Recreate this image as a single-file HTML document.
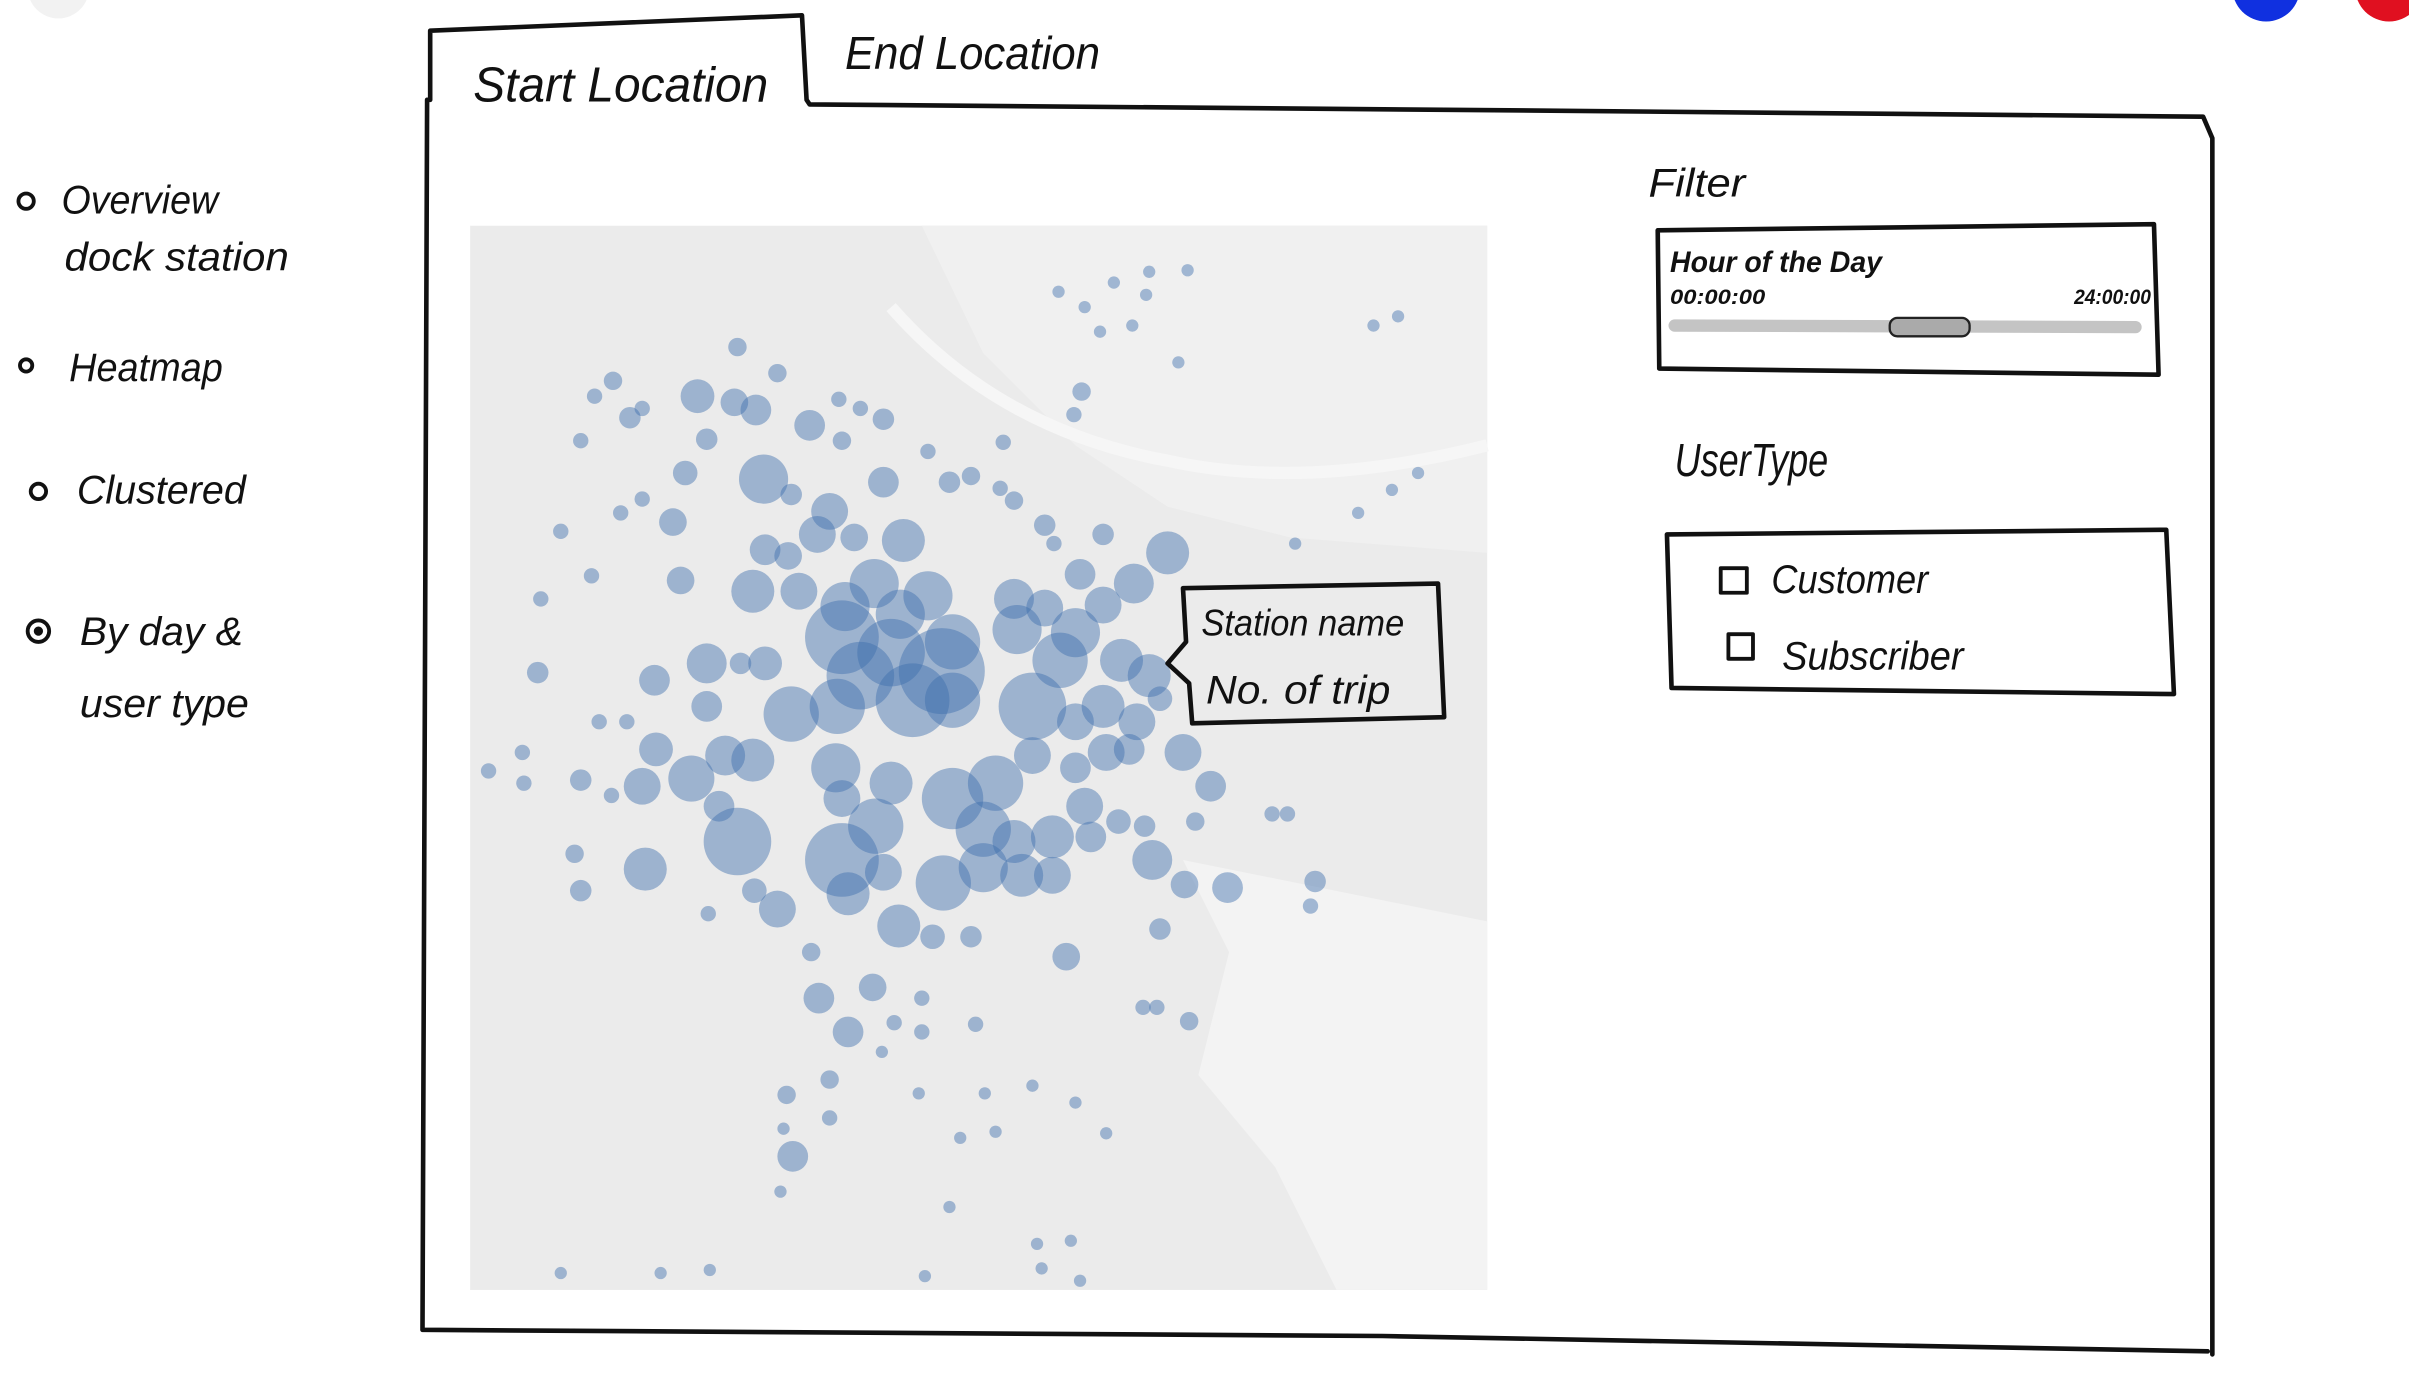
<!DOCTYPE html>
<html><head><meta charset="utf-8"><style>
html,body{margin:0;padding:0;background:#fff;}
svg{display:block}
text{font-family:"Liberation Sans",sans-serif;fill:#111}
</style></head><body>
<svg width="2409" height="1379" viewBox="0 0 1568 898" preserveAspectRatio="none" xmlns="http://www.w3.org/2000/svg">
<rect width="1568" height="898" fill="#fff"/>
<circle cx="38" cy="-8" r="20" fill="#f2f2f2"/>
<circle cx="1475" cy="-8" r="22" fill="#1030e0"/>
<circle cx="1555" cy="-8" r="22" fill="#e01020"/>
<!-- map -->
<rect x="306" y="147" width="662" height="693" fill="#ebebeb"/>
<path d="M600 147 L640 230 L700 290 L760 330 L840 350 L968 360 L968 147 Z" fill="#f0f0f0"/>
<path d="M770 560 L800 620 L780 700 L830 760 L870 840 L968 840 L968 600 Z" fill="#f3f3f3"/>
<path d="M580 200 Q650 280 760 300 Q850 320 968 290" stroke="#f6f6f6" stroke-width="8" fill="none"/>
<g fill="rgba(62,110,172,0.45)">
<circle cx="480" cy="226" r="6"/><circle cx="506" cy="243" r="6"/><circle cx="399" cy="248" r="6"/><circle cx="387" cy="258" r="5"/><circle cx="454" cy="258" r="11"/><circle cx="478" cy="262" r="9"/><circle cx="492" cy="267" r="10"/><circle cx="410" cy="272" r="7"/><circle cx="418" cy="266" r="5"/><circle cx="527" cy="277" r="10"/><circle cx="546" cy="260" r="5"/><circle cx="560" cy="266" r="5"/><circle cx="575" cy="273" r="7"/><circle cx="460" cy="286" r="7"/><circle cx="378" cy="287" r="5"/><circle cx="548" cy="287" r="6"/><circle cx="604" cy="294" r="5"/><circle cx="653" cy="288" r="5"/>
<circle cx="446" cy="308" r="8"/><circle cx="497" cy="312" r="16"/><circle cx="575" cy="314" r="10"/><circle cx="618" cy="314" r="7"/><circle cx="632" cy="310" r="6"/><circle cx="651" cy="318" r="5"/><circle cx="660" cy="326" r="6"/><circle cx="515" cy="322" r="7"/><circle cx="418" cy="325" r="5"/><circle cx="404" cy="334" r="5"/><circle cx="438" cy="340" r="9"/><circle cx="365" cy="346" r="5"/><circle cx="540" cy="333" r="12"/><circle cx="532" cy="348" r="12"/><circle cx="556" cy="350" r="9"/><circle cx="588" cy="352" r="14"/><circle cx="498" cy="358" r="10"/><circle cx="513" cy="362" r="9"/><circle cx="680" cy="342" r="7"/><circle cx="686" cy="354" r="5"/><circle cx="718" cy="348" r="7"/><circle cx="760" cy="360" r="14"/><circle cx="703" cy="374" r="10"/><circle cx="738" cy="380" r="13"/>
<circle cx="385" cy="375" r="5"/><circle cx="443" cy="378" r="9"/><circle cx="490" cy="385" r="14"/><circle cx="520" cy="385" r="12"/><circle cx="569" cy="380" r="16"/><circle cx="604" cy="388" r="16"/><circle cx="550" cy="395" r="16"/><circle cx="586" cy="400" r="16"/><circle cx="660" cy="390" r="13"/><circle cx="680" cy="396" r="12"/><circle cx="718" cy="394" r="12"/><circle cx="352" cy="390" r="5"/>
<circle cx="548" cy="415" r="24"/><circle cx="580" cy="425" r="22"/><circle cx="613" cy="437" r="28"/><circle cx="620" cy="418" r="18"/><circle cx="560" cy="440" r="22"/><circle cx="545" cy="460" r="18"/><circle cx="594" cy="456" r="24"/><circle cx="620" cy="456" r="18"/><circle cx="515" cy="465" r="18"/><circle cx="662" cy="410" r="16"/><circle cx="690" cy="430" r="18"/><circle cx="672" cy="460" r="22"/><circle cx="700" cy="412" r="16"/><circle cx="730" cy="430" r="14"/><circle cx="748" cy="440" r="14"/><circle cx="740" cy="470" r="12"/><circle cx="718" cy="460" r="14"/><circle cx="700" cy="470" r="12"/><circle cx="672" cy="492" r="12"/><circle cx="720" cy="490" r="12"/><circle cx="700" cy="500" r="10"/><circle cx="735" cy="488" r="10"/><circle cx="770" cy="490" r="12"/><circle cx="788" cy="512" r="10"/><circle cx="755" cy="455" r="8"/>
<circle cx="460" cy="432" r="13"/><circle cx="426" cy="443" r="10"/><circle cx="498" cy="432" r="11"/><circle cx="482" cy="432" r="7"/><circle cx="350" cy="438" r="7"/><circle cx="460" cy="460" r="10"/><circle cx="390" cy="470" r="5"/><circle cx="408" cy="470" r="5"/><circle cx="427" cy="488" r="11"/><circle cx="490" cy="495" r="14"/><circle cx="472" cy="492" r="13"/><circle cx="450" cy="507" r="15"/><circle cx="418" cy="512" r="12"/><circle cx="378" cy="508" r="7"/><circle cx="398" cy="518" r="5"/><circle cx="340" cy="490" r="5"/><circle cx="318" cy="502" r="5"/><circle cx="341" cy="510" r="5"/>
<circle cx="544" cy="500" r="16"/><circle cx="580" cy="510" r="14"/><circle cx="548" cy="520" r="12"/><circle cx="620" cy="520" r="20"/><circle cx="648" cy="510" r="18"/><circle cx="640" cy="540" r="18"/><circle cx="660" cy="548" r="14"/><circle cx="685" cy="545" r="14"/><circle cx="706" cy="525" r="12"/><circle cx="710" cy="545" r="10"/><circle cx="728" cy="535" r="8"/><circle cx="745" cy="538" r="7"/><circle cx="778" cy="535" r="6"/><circle cx="828" cy="530" r="5"/><circle cx="838" cy="530" r="5"/>
<circle cx="480" cy="548" r="22"/><circle cx="468" cy="525" r="10"/><circle cx="548" cy="560" r="24"/><circle cx="570" cy="538" r="18"/><circle cx="575" cy="568" r="12"/><circle cx="614" cy="575" r="18"/><circle cx="640" cy="565" r="16"/><circle cx="665" cy="570" r="14"/><circle cx="685" cy="570" r="12"/><circle cx="750" cy="560" r="13"/><circle cx="771" cy="576" r="9"/><circle cx="799" cy="578" r="10"/><circle cx="856" cy="574" r="7"/><circle cx="853" cy="590" r="5"/>
<circle cx="374" cy="556" r="6"/><circle cx="420" cy="566" r="14"/><circle cx="378" cy="580" r="7"/><circle cx="552" cy="582" r="14"/><circle cx="585" cy="603" r="14"/><circle cx="506" cy="592" r="12"/><circle cx="491" cy="580" r="8"/><circle cx="461" cy="595" r="5"/><circle cx="607" cy="610" r="8"/><circle cx="632" cy="610" r="7"/><circle cx="755" cy="605" r="7"/><circle cx="694" cy="623" r="9"/><circle cx="528" cy="620" r="6"/>
<circle cx="533" cy="650" r="10"/><circle cx="568" cy="643" r="9"/><circle cx="600" cy="650" r="5"/><circle cx="552" cy="672" r="10"/><circle cx="582" cy="666" r="5"/><circle cx="600" cy="672" r="5"/><circle cx="574" cy="685" r="4"/><circle cx="635" cy="667" r="5"/><circle cx="744" cy="656" r="5"/><circle cx="753" cy="656" r="5"/><circle cx="774" cy="665" r="6"/>
<circle cx="540" cy="703" r="6"/><circle cx="512" cy="713" r="6"/><circle cx="598" cy="712" r="4"/><circle cx="641" cy="712" r="4"/><circle cx="672" cy="707" r="4"/><circle cx="700" cy="718" r="4"/><circle cx="540" cy="728" r="5"/><circle cx="510" cy="735" r="4"/><circle cx="625" cy="741" r="4"/><circle cx="648" cy="737" r="4"/><circle cx="516" cy="753" r="10"/><circle cx="720" cy="738" r="4"/><circle cx="508" cy="776" r="4"/><circle cx="618" cy="786" r="4"/><circle cx="697" cy="808" r="4"/><circle cx="675" cy="810" r="4"/><circle cx="365" cy="829" r="4"/><circle cx="430" cy="829" r="4"/><circle cx="462" cy="827" r="4"/><circle cx="602" cy="831" r="4"/><circle cx="678" cy="826" r="4"/><circle cx="703" cy="834" r="4"/>
<circle cx="748" cy="177" r="4"/><circle cx="725" cy="184" r="4"/><circle cx="773" cy="176" r="4"/><circle cx="689" cy="190" r="4"/><circle cx="706" cy="200" r="4"/><circle cx="746" cy="192" r="4"/><circle cx="716" cy="216" r="4"/><circle cx="737" cy="212" r="4"/><circle cx="767" cy="236" r="4"/><circle cx="910" cy="206" r="4"/><circle cx="894" cy="212" r="4"/><circle cx="704" cy="255" r="6"/><circle cx="699" cy="270" r="5"/><circle cx="923" cy="308" r="4"/><circle cx="906" cy="319" r="4"/><circle cx="884" cy="334" r="4"/><circle cx="843" cy="354" r="4"/>
</g>
<!-- main frame -->
<g fill="none" stroke="#111" stroke-width="3" stroke-linecap="round" stroke-linejoin="round">
<path d="M280 20 L280 65 M280 20 L522 10 L525 65 L527 68 L1000 72 L1434 76 L1440 90 L1440 882 M278 65 L275 866 L900 870 L1437 880"/>
<path d="M1079 150 L1402 146 L1405 244 L1080 240 Z"/>
<path d="M1085 348 L1410 345 L1415 452 L1088 448 Z"/>
<path d="M770 383 L936 380 L940 467 L776 471 L774 445 L760 432 L772 418 Z"/>
<rect x="1120" y="370" width="17" height="16" stroke-width="2.5"/>
<rect x="1125" y="413" width="16" height="16" stroke-width="2.5"/>
</g>
<!-- slider -->
<line x1="1090" y1="212" x2="1390" y2="213" stroke="#c4c4c4" stroke-width="8" stroke-linecap="round"/>
<rect x="1230" y="207" width="52" height="12" rx="5" fill="#aaa" stroke="#222" stroke-width="1.5"/>
<!-- radio circles -->
<g fill="none" stroke="#111" stroke-width="2.5">
<circle cx="17" cy="131" r="5"/><circle cx="17" cy="238" r="4"/><circle cx="25" cy="320" r="5"/><circle cx="25" cy="411" r="7"/>
</g>
<circle cx="25" cy="411" r="3" fill="#111"/>
<g font-size="26" font-style="italic">
<text x="308" y="66" font-size="32" textLength="192" lengthAdjust="spacingAndGlyphs">Start Location</text>
<text x="550" y="45" font-size="30" textLength="166" lengthAdjust="spacingAndGlyphs">End Location</text>
<text x="40" y="139" textLength="102" lengthAdjust="spacingAndGlyphs">Overview</text>
<text x="42" y="176" textLength="146" lengthAdjust="spacingAndGlyphs">dock station</text>
<text x="45" y="248" textLength="100" lengthAdjust="spacingAndGlyphs">Heatmap</text>
<text x="50" y="328" textLength="110" lengthAdjust="spacingAndGlyphs">Clustered</text>
<text x="52" y="420" textLength="106" lengthAdjust="spacingAndGlyphs">By day &amp;</text>
<text x="52" y="467" textLength="110" lengthAdjust="spacingAndGlyphs">user type</text>
<text x="1073" y="128" textLength="63" lengthAdjust="spacingAndGlyphs">Filter</text>
<text x="1090" y="310" font-size="30" textLength="100" lengthAdjust="spacingAndGlyphs">UserType</text>
<text x="1153" y="386" textLength="102" lengthAdjust="spacingAndGlyphs">Customer</text>
<text x="1160" y="436" textLength="118" lengthAdjust="spacingAndGlyphs">Subscriber</text>
<text x="782" y="414" font-size="24" textLength="132" lengthAdjust="spacingAndGlyphs">Station name</text>
<text x="785" y="458" font-size="26" textLength="120" lengthAdjust="spacingAndGlyphs">No. of trip</text>
</g>
<text x="1087" y="177" font-size="19" font-weight="bold" font-style="italic" textLength="138" lengthAdjust="spacingAndGlyphs">Hour of the Day</text>
<text x="1087" y="198" font-size="14" font-weight="bold" font-style="italic" textLength="62" lengthAdjust="spacingAndGlyphs">00:00:00</text>
<text x="1350" y="198" font-size="14" font-weight="bold" font-style="italic" textLength="50" lengthAdjust="spacingAndGlyphs">24:00:00</text>
</svg>
</body></html>
